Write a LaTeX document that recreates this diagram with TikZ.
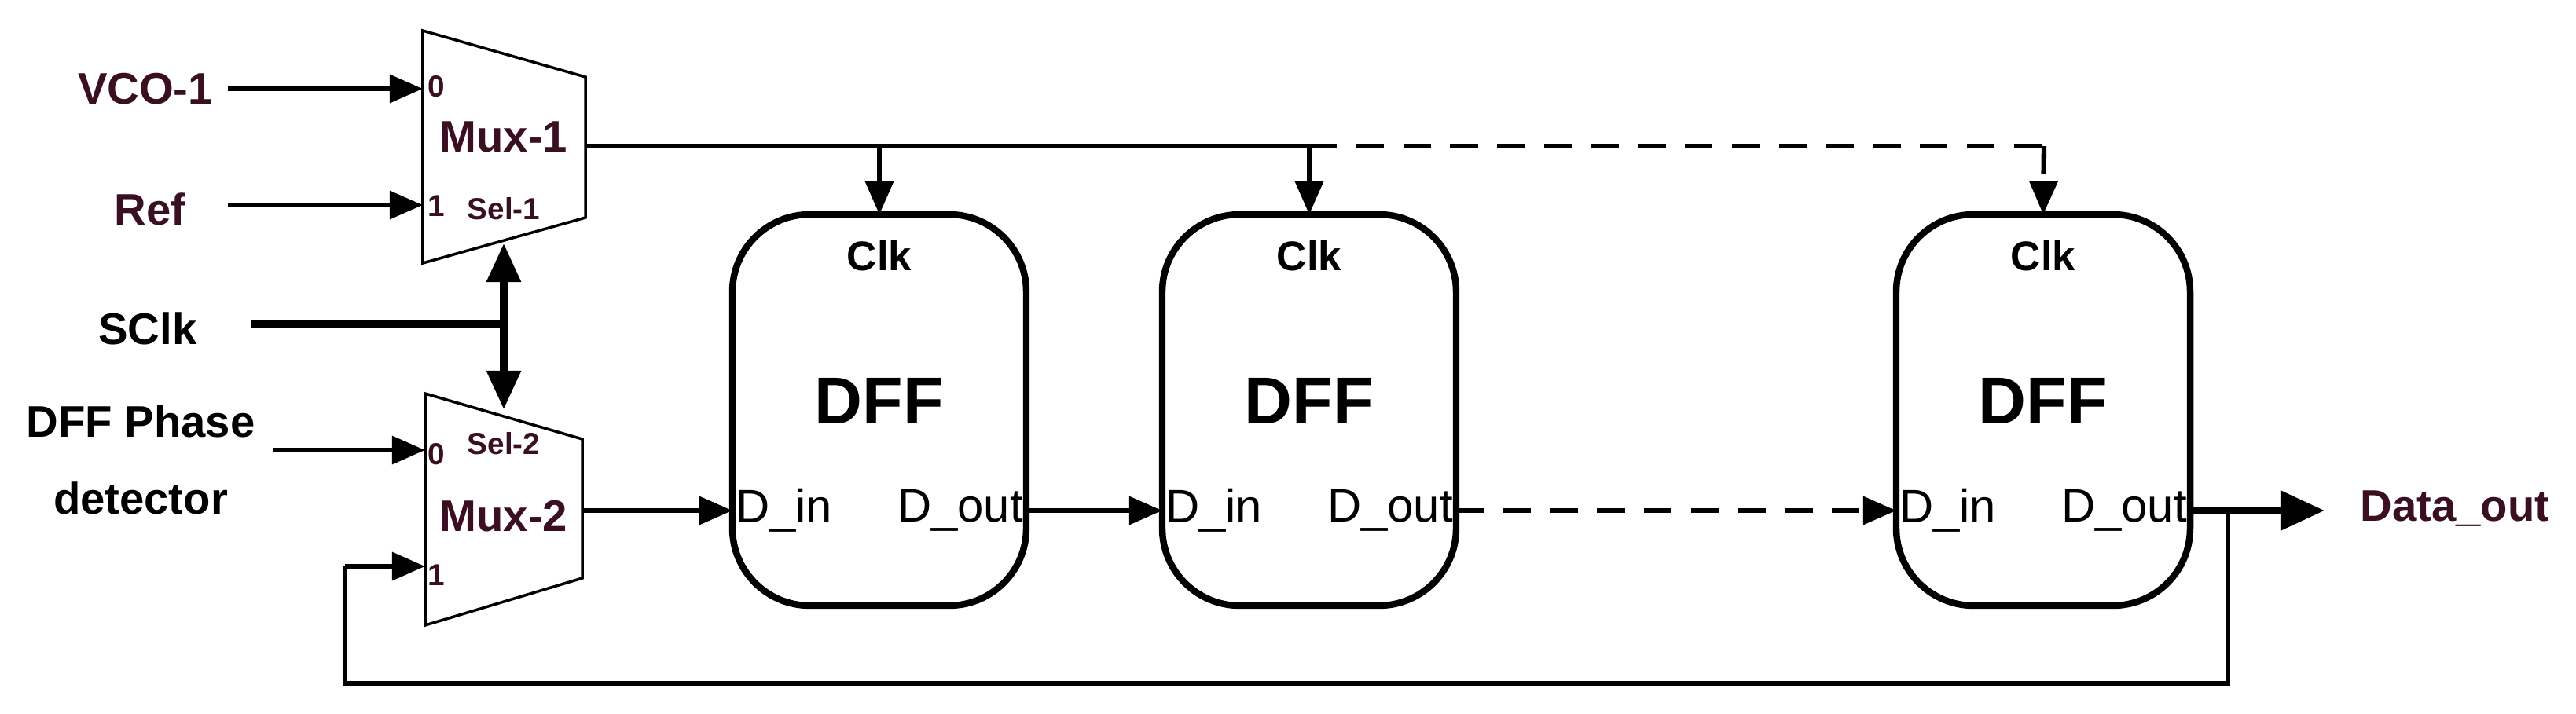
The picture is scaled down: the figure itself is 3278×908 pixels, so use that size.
\documentclass[tikz,border=0pt]{standalone}
\usepackage{fontspec}
\setmainfont{Liberation Sans}
\usetikzlibrary{arrows.meta}
\definecolor{mar}{HTML}{3A0F22}
\begin{document}
\begin{tikzpicture}[x=0.01cm,y=-0.01cm,
  tip/.style={-{Triangle[length=12pt,width=10pt]}},
  wire/.style={line width=1.8pt,tip},
  plain/.style={line width=1.8pt},
  dsh/.style={line width=1.8pt,dash pattern=on 10pt off 7pt},
  mux/.style={line width=1pt},
  lab/.style={font=\bfseries\fontsize{16}{18}\selectfont,text=mar},
  blab/.style={font=\bfseries\fontsize{16}{18}\selectfont},
  sml/.style={font=\bfseries\fontsize{11}{12}\selectfont,text=mar}]
\useasboundingbox (0,0) rectangle (3278,908);
% muxes
\draw[mux] (538,39) -- (745,98) -- (745,277) -- (538,335) -- cycle;
\draw[mux] (541,501) -- (741,559) -- (741,736) -- (541,796) -- cycle;
\coordinate (m1in0) at (538,113); \coordinate (m1in1) at (538,261);
\coordinate (m1out) at (745,186); \coordinate (m1sel) at (641,310);
\coordinate (m2in0) at (541,573); \coordinate (m2in1) at (541,721);
\coordinate (m2out) at (741,650); \coordinate (m2sel) at (641,521);
\node[lab] (mux1) at (641,174) {Mux-1};
\node[lab] (mux2) at (641,657) {Mux-2};
\node[sml] (sel1) at (641,266) {Sel-1};
\node[sml] (sel2) at (641,565) {Sel-2};
\node[sml] (z1) at (555,110) {0};
\node[sml] (o1) at (555,262) {1};
\node[sml] (z2) at (555,578) {0};
\node[sml] (o2) at (555,732) {1};
% inputs
\node[lab] (vco) at (185,113) {VCO-1};
\node[lab] (ref) at (191,266) {Ref};
\node[blab] (sclk) at (188,418) {SClk};
\node[blab] (ph1) at (179,536) {DFF Phase};
\node[blab] (ph2) at (179,634) {detector};
\coordinate (vcoS) at (290,113); \coordinate (refS) at (290,261);
\coordinate (sclkS) at (319,412); \coordinate (jn) at (641,412);
\coordinate (phS) at (348,573);
\draw[wire] (vcoS) -- (m1in0);
\draw[wire] (refS) -- (m1in1);
\draw[line width=2.6pt] (sclkS) -- (jn);
\draw[line width=2.6pt,-{Triangle[length=14pt,width=12pt]}] (jn) -- (m1sel);
\draw[line width=2.6pt,-{Triangle[length=14pt,width=12pt]}] (jn) -- (m2sel);
\draw[wire] (phS) -- (m2in0);
% DFFs
\foreach \n/\cx in {1/1119,2/1666,3/2600}{
  \draw[line width=2.4pt,rounded corners=28pt] (\cx-187,273) rectangle (\cx+187,771);
  \coordinate (clk\n) at (\cx,273);
  \coordinate (din\n) at (\cx-187,650);
  \coordinate (dout\n) at (\cx+187,650);
  \node[font=\bfseries\fontsize{15}{17}\selectfont] (clkl\n) at (\cx,326) {Clk};
  \node[font=\bfseries\fontsize{24}{27}\selectfont] (dffl\n) at (\cx,510) {DFF};
  \node[font=\fontsize{17}{19}\selectfont,anchor=west,inner sep=1pt] (dinl\n) at (\cx-187,650) {D\_in};
  \node[font=\fontsize{17}{19}\selectfont,anchor=east,inner sep=1pt] (doutl\n) at (\cx+187,650) {D\_out};
}
% clock distribution
\coordinate (t1) at (1119,186); \coordinate (t2) at (1666,186); \coordinate (t3) at (2601,186);
\draw[plain] (m1out) -- (t2);
\draw[wire] (t1) -- (clk1);
\draw[wire] (t2) -- (clk2);
\draw[dsh] (t2) -- (t3);
\draw[dsh,tip] (t3) -- (clk3);
% data
\draw[wire] (m2out) -- (din1);
\draw[wire] (dout1) -- (din2);
\draw[dsh,tip] (dout2) -- (din3);
\coordinate (dE) at (2958,650);
\draw[line width=2.6pt,-{Triangle[length=16pt,width=14pt]}] (dout3) -- (dE);
\node[lab] (dout) at (3124,648) {Data\_out};
% feedback
\coordinate (fb1) at (2835,650); \coordinate (fb2) at (2835,870);
\coordinate (fb3) at (439,870); \coordinate (fb4) at (439,721);
\draw[line width=1.5pt] (fb1) -- (fb2) -- (fb3) -- (fb4);
\draw[wire] (fb4) -- (m2in1);
\end{tikzpicture}
\end{document}
